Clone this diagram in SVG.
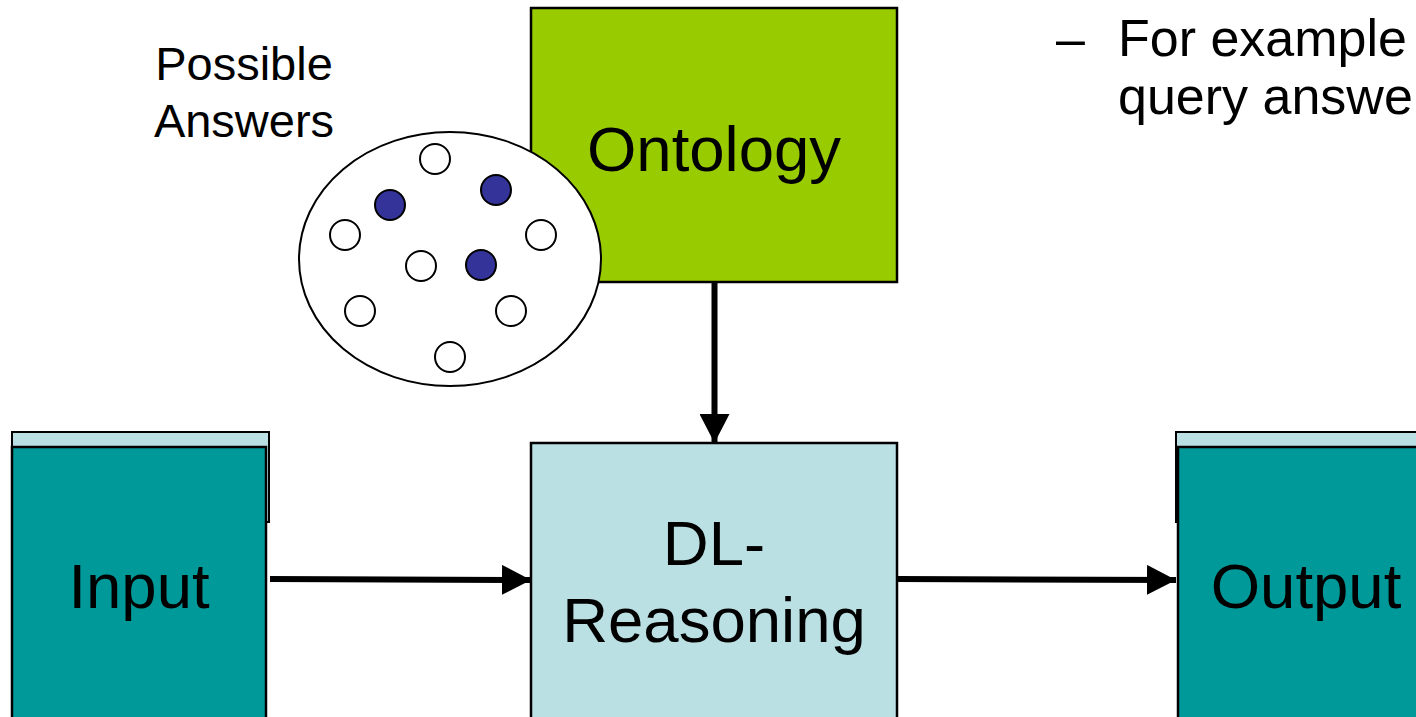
<svg xmlns="http://www.w3.org/2000/svg" width="1416" height="717" viewBox="0 0 1416 717">
  <defs>
    <style>
      .lbl { font-family: "Liberation Sans", Arial, sans-serif; fill: #000; }
      .big { font-size: 63.5px; text-anchor: middle; }
      .box { stroke: #000; stroke-width: 2.5; }
      .pale { fill: #BBE0E3; }
      .teal { fill: #009999; }
      .dot { stroke: #000; stroke-width: 2; }
      .empty { fill: #fff; }
      .hit { fill: #333399; }
      .wire { stroke: #000; stroke-width: 6; fill: none; }
    </style>
    <marker id="head" markerUnits="userSpaceOnUse" markerWidth="30" markerHeight="30" refX="29" refY="15" orient="auto" viewBox="0 0 30 30">
      <path d="M0,0 L29,15 L0,30 Z" fill="#000"/>
    </marker>
  </defs>

  <rect width="1416" height="717" fill="#fff"/>

  <!-- Ontology -->
  <g id="ontology">
    <rect class="box" x="531" y="8" width="366" height="274" fill="#99CC00"/>
    <text class="lbl big" x="714" y="171">Ontology</text>
  </g>

  <!-- Set of possible answers -->
  <g id="possible-answers">
    <ellipse cx="450" cy="259" rx="151" ry="127" fill="#fff" stroke="#000" stroke-width="2"/>
    <circle class="dot empty" cx="435" cy="159" r="15"/>
    <circle class="dot hit" cx="496" cy="190" r="15"/>
    <circle class="dot hit" cx="390" cy="205" r="15"/>
    <circle class="dot empty" cx="345" cy="235" r="15"/>
    <circle class="dot empty" cx="541" cy="235" r="15"/>
    <circle class="dot empty" cx="421" cy="266" r="15"/>
    <circle class="dot hit" cx="481" cy="265" r="15"/>
    <circle class="dot empty" cx="360" cy="311" r="15"/>
    <circle class="dot empty" cx="511" cy="311" r="15"/>
    <circle class="dot empty" cx="450" cy="357" r="15"/>
    <text class="lbl" font-size="47" text-anchor="middle" x="244" y="80">Possible</text>
    <text class="lbl" font-size="47" text-anchor="middle" x="244" y="137">Answers</text>
  </g>

  <!-- Input -->
  <g id="input">
    <rect x="12" y="432" width="257" height="90" class="pale" stroke="#000" stroke-width="2"/>
    <rect x="12" y="447" width="254" height="280" class="teal box"/>
    <text class="lbl big" x="139" y="608">Input</text>
  </g>

  <!-- DL reasoner -->
  <g id="dl-reasoning">
    <rect class="box pale" x="531" y="443" width="366" height="284"/>
    <text class="lbl big" x="714" y="565">DL-</text>
    <text class="lbl big" x="714" y="642">Reasoning</text>
  </g>

  <!-- Output -->
  <g id="output">
    <rect x="1176" y="432" width="260" height="90" class="pale" stroke="#000" stroke-width="2"/>
    <rect x="1178" y="447" width="260" height="280" class="teal box"/>
    <text class="lbl big" x="1306" y="608">Output</text>
  </g>

  <!-- Bullet text -->
  <g id="note">
    <text class="lbl" font-size="52" x="1056" y="56">–</text>
    <text class="lbl" font-size="52" x="1118" y="56">For example</text>
    <text class="lbl" font-size="52" x="1118" y="114">query answe</text>
  </g>

  <!-- Connectors -->
  <g id="connectors">
    <path class="wire" d="M714.5,282 L714.5,443" marker-end="url(#head)"/>
    <path class="wire" d="M270,579 L531,580" marker-end="url(#head)"/>
    <path class="wire" d="M897,579 L1176,580" marker-end="url(#head)"/>
  </g>
</svg>
